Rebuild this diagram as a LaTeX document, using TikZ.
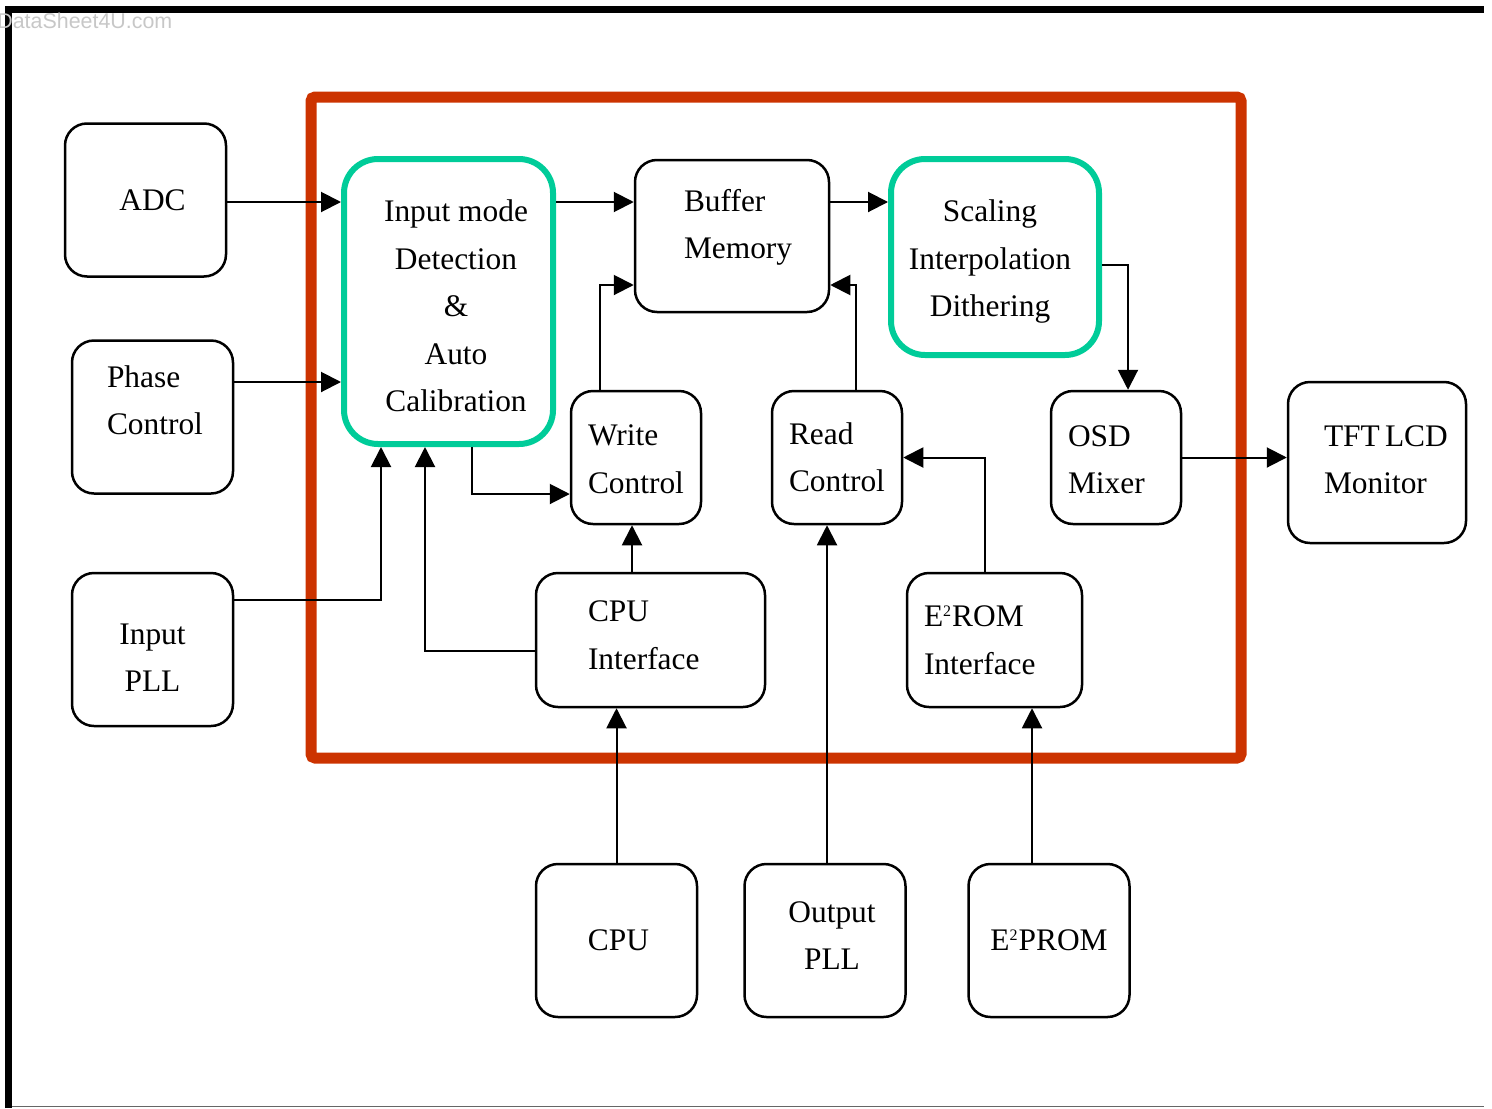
\documentclass[tikz,border=0pt]{standalone}
\usepackage{fontspec}
\setmainfont{Liberation Serif}
\setsansfont{Liberation Sans}
\usetikzlibrary{arrows.meta,positioning}
\definecolor{framered}{RGB}{204,51,0}
\definecolor{procteal}{RGB}{0,204,153}
\newcommand{\sqtwo}{\textsuperscript{\fontsize{8}{8}\selectfont 2}}

\begin{document}
\begin{tikzpicture}[
    x=0.5pt, y=-0.5pt,
    block/.style={rectangle, draw=black, line width=1.25pt, rounded corners=11pt,
                  inner sep=0pt, align=flush left, font=\fontsize{15.7}{23.75}\selectfont},
    proc/.style={rectangle, draw=procteal, line width=3pt, rounded corners=17pt,
                 inner sep=0pt, align=center, font=\fontsize{15.7}{23.75}\selectfont},
    extblock/.style={minimum width=80.5pt, minimum height=76.5pt},
    ctlblock/.style={minimum width=65pt, minimum height=66.5pt, text width=48pt, inner xsep=8.5pt},
    conn/.style={line width=1pt, -{Triangle[length=10pt, width=10pt]}}
]
\useasboundingbox (0,0) rectangle (1492,1108);

% page frame and watermark
\draw[line width=3.5pt] (8.5,1108) -- (8.5,9) -- (1484,9);
\draw[line width=0.8pt, black!60] (12,1106.5) -- (1484,1106.5);
\node[anchor=base west, inner sep=0pt, text=black!22,
      font=\fontsize{10.7}{12}\sffamily] (wm) at (-3,28) {DataSheet4U.com};

% chip boundary
\draw[framered, line width=5.5pt, rounded corners=2pt] (311,97) rectangle (1241,758);

% outside blocks
\node[block, extblock, align=center] (adc) at (145.5,200) {\hspace*{7pt}ADC};
\node[block, extblock, text width=45.5pt, inner xsep=17.5pt] (phase) at (152.5,417)
    {Phase\\Control\rule[-17pt]{0pt}{17pt}};
\node[block, extblock, align=center] (ipll) at (152.5,649.5) {\rule{0pt}{18.4pt}Input\\PLL};
\node[block, minimum width=89pt, minimum height=80.5pt, text width=53pt, inner xsep=18pt] (tft)
    at (1377,462.5) {TFT~LCD\\Monitor\rule[-3pt]{0pt}{3pt}};
\node[block, extblock, align=center] (cpu) at (616.5,940.5) {\hspace*{2pt}CPU};
\node[block, extblock, align=center] (opll) at (825,940.5)
    {\hspace*{7pt}Output\\\hspace*{7pt}PLL\rule[-5pt]{0pt}{5pt}};
\node[block, extblock, align=center] (e2prom) at (1049,940.5) {E\sqtwo PROM};

% inside blocks
\node[proc, minimum width=104.5pt, minimum height=142.5pt] (inmode) at (448.5,301.5)
    {\hspace*{7.5pt}\rule{0pt}{15.2pt}Input mode\\\hspace*{7.5pt}Detection\\\hspace*{7.5pt}\&\\
     \hspace*{7.5pt}Auto\\\hspace*{7.5pt}Calibration};
\node[block, minimum width=97pt, minimum height=76pt, text width=48pt, inner xsep=24.5pt] (buffer)
    at (732,236) {Buffer\\Memory\rule[-11.9pt]{0pt}{11.9pt}};
\node[proc, minimum width=104pt, minimum height=98pt] (scaling) at (995,257)
    {\hspace*{-5pt}\rule{0pt}{15.7pt}Scaling\\\hspace*{-5pt}Interpolation\\\hspace*{-5pt}Dithering};
\node[block, ctlblock] (write) at (636,457.5) {\rule{0pt}{12pt}Write\\Control};
\node[block, ctlblock] (read) at (837,457.5) {Read\\Control};
\node[block, ctlblock] (osd) at (1116,457.5) {\rule{0pt}{12.5pt}OSD\\Mixer};
\node[block, minimum width=114.5pt, minimum height=67pt, text width=62.5pt, inner xsep=26pt] (cpuif)
    at (650.5,640) {CPU\\Interface\rule[-5pt]{0pt}{5pt}};
\node[block, minimum width=87.5pt, minimum height=67pt, text width=70.5pt, inner xsep=8.5pt] (e2romif)
    at (994.5,640) {E\sqtwo ROM\\Interface};

% connectors
\draw[conn] (adc.east |- 0,202) -- (inmode.west |- 0,202);
\draw[conn] (phase.east |- 0,382) -- (inmode.west |- 0,382);
\draw[conn] (ipll.east |- 0,600) -| (inmode.south -| 381,0);
\draw[conn] (cpuif.west |- 0,651) -| (inmode.south -| 425,0);
\draw[conn] (inmode.south -| 472,0) |- (write.west |- 0,494);
\draw[conn] (inmode.east |- 0,202) -- (buffer.west |- 0,202);
\draw[conn] (write.north -| 600,0) |- (buffer.west |- 0,285);
\draw[conn] (read.north -| 856,0) |- (buffer.east |- 0,285);
\draw[conn] (buffer.east |- 0,202) -- (scaling.west |- 0,202);
\draw[conn] (scaling.east |- 0,265) -| (osd.north -| 1128,0);
\draw[conn] (osd.east) -- (osd.east -| tft.west);
\draw[conn] (e2romif.north -| 985,0) |- (read.east);
\draw[conn] (cpuif.north -| 632,0) -- (write.south -| 632,0);
\draw[conn] (cpu.north) -- (cpu.north |- cpuif.south);
\draw[conn] (opll.north -| 827,0) -- (read.south -| 827,0);
\draw[conn] (e2prom.north -| 1032,0) -- (e2romif.south -| 1032,0);

\end{tikzpicture}
\end{document}
